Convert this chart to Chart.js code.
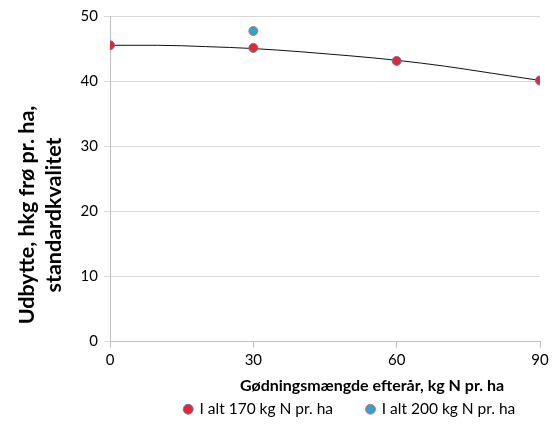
<!DOCTYPE html>
<html><head><meta charset="utf-8">
<script src="https://cdn.jsdelivr.net/npm/chart.js@4/dist/chart.umd.min.js"></script>
<style>html,body{margin:0;padding:0;background:#fff}#w{width:553px;height:427px}</style>
</head><body><div id="w"><canvas id="c"></canvas></div>
<script>
const xTicks = [0, 30, 60, 90];
const yTicks = [0, 10, 20, 30, 40, 50];
const series170X = [0, 30, 60, 90];
const series170Y = [45.5, 45.1, 43.1, 40.1];
const series200X = [30];
const series200Y = [47.7];
const trendX = [0, 10, 20, 30, 40, 50, 60, 70, 80, 90];
const trendY = [45.5, 45.5, 45.3, 45.0, 44.5, 43.9, 43.2, 42.3, 41.2, 40.1];
const seriesNames = ['I alt 170 kg N pr. ha', 'I alt 200 kg N pr. ha'];
const xTitle = 'Gødningsmængde efterår, kg N pr. ha';
const yTitle = ['Udbytte, hkg frø pr. ha,', 'standardkvalitet'];

const FONT = 'Lato, "Open Sans", sans-serif';
const pts = (xs, ys) => xs.map((x, i) => ({x, y: ys[i]}));

const titlePlugin = {
  id: 'titles',
  afterLayout(chart) {
    const lg = chart.legend;
    if (lg) { lg.left += 80; lg.right += 80; }
  },
  afterDraw(chart) {
    const ctx = chart.ctx;
    ctx.save();
    ctx.fillStyle = '#000';
    ctx.font = 'bold 16px ' + FONT;
    ctx.textAlign = 'center';
    ctx.textBaseline = 'middle';
    ctx.fillText(xTitle, 372, 386);
    ctx.translate(0, 215);
    ctx.rotate(-Math.PI / 2);
    ctx.font = 'bold 21.5px ' + FONT;
    ctx.fillText(yTitle[0], 0, 27);
    ctx.fillText(yTitle[1], 0, 54);
    ctx.restore();
  }
};

new Chart(document.getElementById('c'), {
  type: 'scatter',
  data: {
    datasets: [
      {label: seriesNames[0], data: pts(series170X, series170Y), backgroundColor: '#e8262c', borderColor: '#4f81bd', borderWidth: 1, pointRadius: 4.5, order: 1},
      {label: seriesNames[1], data: pts(series200X, series200Y), backgroundColor: '#29a3dc', borderColor: '#e0704a', borderWidth: 1, pointRadius: 4.5, order: 1},
      {label: 'trend', type: 'line', data: pts(trendX, trendY), borderColor: '#111', borderWidth: 1, pointRadius: 0, tension: 0.4, cubicInterpolationMode: 'monotone', fill: false, order: 2}
    ]
  },
  options: {
    responsive: true, maintainAspectRatio: false, animation: false,
    layout: {padding: {top: 16, right: 13, left: 0, bottom: 0}},
    plugins: {
      tooltip: {enabled: false},
      legend: {
        position: 'bottom',
        labels: {
          filter: it => it.datasetIndex < 2,
          usePointStyle: true, pointStyle: 'circle', boxWidth: 7, boxHeight: 7,
          color: '#000', font: {family: FONT, size: 15.5}, padding: 34
        }
      }
    },
    scales: {
      x: {
        type: 'linear', min: 0, max: 90,
        afterBuildTicks: s => { s.ticks = xTicks.map(v => ({value: v})); },
        afterFit: s => { s.height = 26; },
        grid: {drawOnChartArea: false, drawTicks: true, tickLength: 6, color: '#bfbfbf'},
        border: {color: '#bfbfbf', width: 1},
        ticks: {color: '#000', font: {family: FONT, size: 15}, padding: 4, maxRotation: 0}
      },
      y: {
        type: 'linear', min: 0, max: 50,
        afterBuildTicks: s => { s.ticks = yTicks.map(v => ({value: v})); },
        afterFit: s => { s.width = 110; },
        grid: {color: '#d9d9d9', drawTicks: true, tickLength: 6},
        border: {color: '#bfbfbf', width: 1},
        ticks: {color: '#000', font: {family: FONT, size: 15}, padding: 6}
      }
    }
  },
  plugins: [titlePlugin]
});
</script></body></html>
